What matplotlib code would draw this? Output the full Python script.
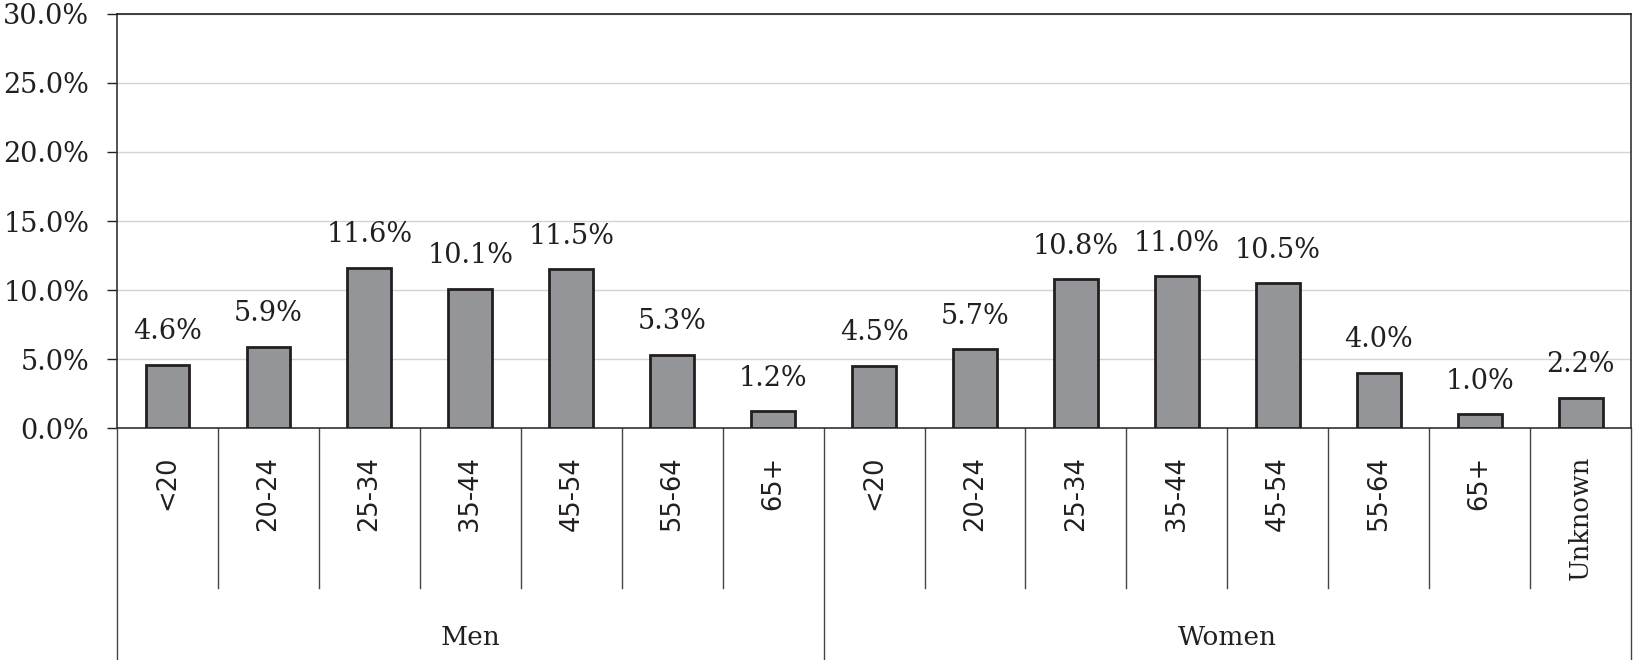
"""Age and sex distribution bar chart with grouped category axis."""

import matplotlib
matplotlib.use("Agg", force=True)
import matplotlib.pyplot as plt
from matplotlib.ticker import FuncFormatter

groups = ["Men", "Women"]
men_ages = ["<20", "20-24", "25-34", "35-44", "45-54", "55-64", "65+"]
women_ages = ["<20", "20-24", "25-34", "35-44", "45-54", "55-64", "65+", "Unknown"]
men_values = [4.6, 5.9, 11.6, 10.1, 11.5, 5.3, 1.2]
women_values = [4.5, 5.7, 10.8, 11.0, 10.5, 4.0, 1.0, 2.2]
y_ticks = [0, 5, 10, 15, 20, 25, 30]

labels = men_ages + women_ages
values = men_values + women_values
group_sizes = [len(men_ages), len(women_ages)]

SERIF = "DejaVu Serif"
SANS = "DejaVu Sans"
FS = 18.5
FS_NUM = 19.5

fig = plt.figure(figsize=(16.35, 6.6), dpi=100)
ax = fig.add_axes([0.0716, 0.3515, 0.926, 0.6273])

x = [i + 0.5 for i in range(len(values))]
ax.bar(x, values, width=0.435, color="#939598", edgecolor="#231f20", linewidth=2.0, zorder=3)

for xi, v in zip(x, values):
    ax.annotate(f"{v:.1f}%", (xi, v), xytext=(0, 14), textcoords="offset points",
                ha="center", va="bottom", fontsize=FS_NUM, family=SERIF, color="#231f20")

ax.set_xlim(0, len(values))
ax.set_ylim(0, 30)
ax.set_yticks(y_ticks)
ax.yaxis.set_major_formatter(FuncFormatter(lambda v, _: f"{v:.1f}%"))
ax.tick_params(axis="y", direction="out", length=7, width=1, pad=13, labelsize=FS_NUM, colors="#231f20")
for lab in ax.get_yticklabels():
    lab.set_family(SERIF)
ax.set_xticks([])
ax.grid(axis="y", color="#d3d3d5", linewidth=1, zorder=0)

for side in ["left", "right", "top", "bottom"]:
    ax.spines[side].set_color("#333333")
    ax.spines[side].set_linewidth(1.2)
ax.spines["top"].set_color("#231f20")

n = len(values)
cat_bottom = -0.3865
grp_bottom = -0.56
line_kw = dict(transform=ax.get_xaxis_transform(), clip_on=False, color="#444444", linewidth=1)

# group borders (full height) and category dividers
edges = [0]
for s in group_sizes:
    edges.append(edges[-1] + s)
for e in edges:
    ax.plot([e, e], [0, grp_bottom], **line_kw)
for i in range(1, n):
    if i not in edges:
        ax.plot([i, i], [0, cat_bottom], **line_kw)

for xi, lab in zip(x, labels):
    fam = SERIF if lab.isalpha() else SANS
    ax.text(xi, -0.0676, lab, rotation=90, ha="center", va="top", fontsize=FS,
            family=fam, color="#231f20", transform=ax.get_xaxis_transform())

for g, a, b in zip(groups, edges[:-1], edges[1:]):
    ax.text((a + b) / 2, -0.507, g, ha="center", va="center", fontsize=19,
            family=SERIF, color="#231f20", transform=ax.get_xaxis_transform())

fig.savefig("out.png", dpi=100)
